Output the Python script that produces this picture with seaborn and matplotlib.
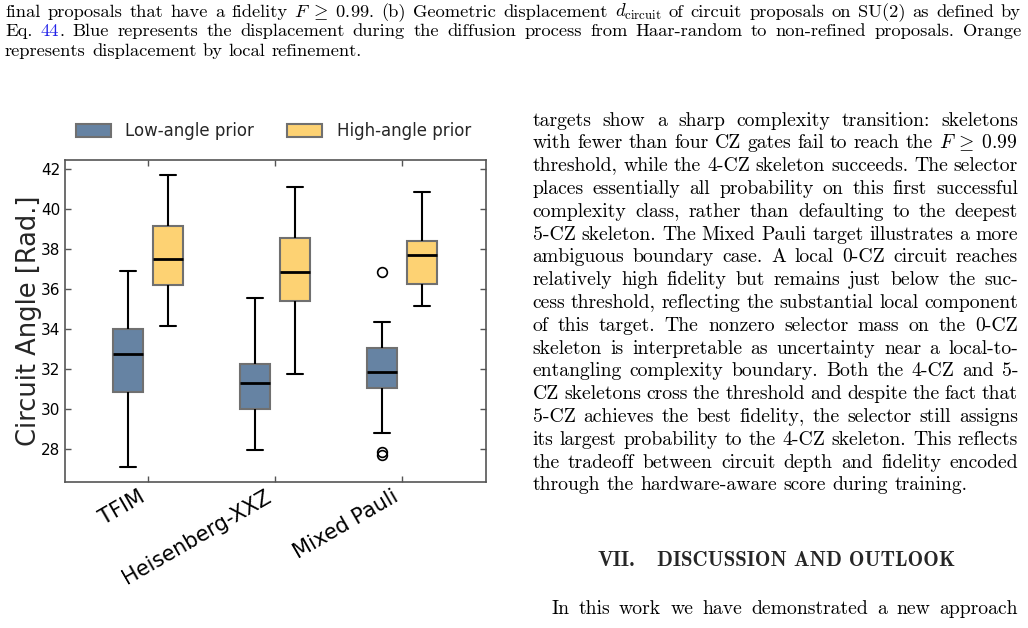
import numpy as np
import pandas as pd
import matplotlib
matplotlib.use('Agg')
import matplotlib.pyplot as plt
import seaborn as sns

# five-number summaries: lower whisker, Q1, median, Q3, upper whisker
targets = ['TFIM', 'Heisenberg-XXZ', 'Mixed Pauli']
priors = ['Low-angle prior', 'High-angle prior']
low_angle = [[27.10, 30.85, 32.77, 34.02, 36.92],
             [27.95, 29.98, 31.28, 32.23, 35.57],
             [28.78, 31.07, 31.85, 33.05, 34.37]]
high_angle = [[34.15, 36.20, 37.48, 39.17, 41.70],
              [31.75, 35.38, 36.87, 38.53, 41.08],
              [35.15, 36.27, 37.70, 38.40, 40.83]]
# points drawn as fliers
outlier_target = ['Mixed Pauli', 'Mixed Pauli', 'Mixed Pauli']
outlier_prior = ['Low-angle prior', 'Low-angle prior', 'Low-angle prior']
outlier_value = [36.83, 27.85, 27.70]
yticks = [28, 30, 32, 34, 36, 38, 40, 42]

# surrounding page text
caption_lines = [
    ['final', 'proposals', 'that', 'have', 'a', 'fidelity', r'$F\;\geq\;0.99$.', '(b)', 'Geometric',
     'displacement', r'$d_{\mathrm{circuit}}$', 'of', 'circuit', 'proposals', 'on', 'SU(2)', 'as',
     'defined', 'by'],
    ['Eq.', (('44', '#2323e8'), ('.', 'black')), 'Blue', 'represents', 'the', 'displacement', 'during',
     'the', 'diffusion', 'process', 'from', 'Haar-random', 'to', 'non-refined', 'proposals.', 'Orange'],
    ['represents', 'displacement', 'by', 'local', 'refinement.'],
]
body_lines = [
    'targets show a sharp complexity transition: skeletons',
    r'with fewer than four CZ gates fail to reach the $F\:\geq\:0.99$',
    'threshold, while the 4-CZ skeleton succeeds. The selector',
    'places essentially all probability on this first successful',
    'complexity class, rather than defaulting to the deepest',
    '5-CZ skeleton. The Mixed Pauli target illustrates a more',
    'ambiguous boundary case. A local 0-CZ circuit reaches',
    'relatively high fidelity but remains just below the suc-',
    'cess threshold, reflecting the substantial local component',
    'of this target. The nonzero selector mass on the 0-CZ',
    'skeleton is interpretable as uncertainty near a local-to-',
    'entangling complexity boundary. Both the 4-CZ and 5-',
    'CZ skeletons cross the threshold and despite the fact that',
    '5-CZ achieves the best fidelity, the selector still assigns',
    'its largest probability to the 4-CZ skeleton. This reflects',
    'the tradeoff between circuit depth and fidelity encoded',
    'through the hardware-aware score during training.',
]
heading_num = 'VII.'
heading_text = 'DISCUSSION AND OUTLOOK'
next_para = 'In this work we have demonstrated a new approach'

rows = []
for prior, stats in zip(priors, [low_angle, high_angle]):
    for target, vals in zip(targets, stats):
        for v in vals:
            rows.append({'target': target, 'prior': prior, 'angle': v})
df = pd.DataFrame(rows)

sns.set_theme(style='ticks')
plt.rcParams['font.family'] = ['DejaVu Sans']
plt.rcParams['mathtext.fontset'] = 'cm'

W, H = 1028, 628
fig = plt.figure(figsize=(W / 100, H / 100), dpi=100)
fig.patch.set_facecolor('white')
ax = fig.add_axes([65 / W, 1 - 482 / H, 421 / W, 322 / H])

palette = {'Low-angle prior': '#6683a3', 'High-angle prior': '#fdd273'}
box_width = 0.63
sns.boxplot(data=df, x='target', y='angle', hue='prior', order=targets, hue_order=priors,
            palette=palette, saturation=1, width=box_width, gap=0.24, whis=(0, 100),
            linecolor='black', linewidth=1.5, ax=ax,
            boxprops=dict(edgecolor='#707070'),
            medianprops=dict(color='black', linewidth=2))

for patch in ax.patches:
    patch.set_edgecolor('#707070')

# fliers
for t, p, v in zip(outlier_target, outlier_prior, outlier_value):
    xpos = targets.index(t) + (priors.index(p) - 0.5) * box_width / 2
    ax.plot(xpos, v, marker='o', ms=7, mfc='none', mec='black', mew=1.2, ls='none')

ax.set_xlim(-0.654, 2.661)
ax.set_ylim(26.35, 42.45)
ax.set_yticks(yticks)
ax.set_xlabel('')
ax.set_ylabel('Circuit Angle [Rad.]', fontsize=18.5)
ax.yaxis.set_label_coords(-0.055, 0.5)
ax.set_xticks(range(len(targets)))
ax.set_xticklabels(targets, rotation=30, ha='right', fontsize=15)
ax.tick_params(axis='y', labelsize=11)
ax.tick_params(direction='in', top=True, right=True, length=4, width=1, color='#555555',
               labelcolor='black')
for s in ax.spines.values():
    s.set_visible(True)
    s.set_color('#555555')
    s.set_linewidth(1.2)

leg = ax.legend(loc='center', bbox_to_anchor=(0.495, 1.09), ncol=2, frameon=False,
                fontsize=12, handlelength=2.1, handleheight=0.8, handletextpad=0.85,
                columnspacing=2.0)
for h in leg.legend_handles:
    h.set_edgecolor('#707070')

# page text
renderer = fig.canvas.get_renderer()


def fx(px):
    return px / W


def fy(py):
    return 1 - py / H


def text_line(words, x0, x1, base, size, family='cmr10', justify=True):
    pieces = []
    for w in words:
        parts = w if isinstance(w, tuple) else ((w, 'black'),)
        arts = [fig.text(0, fy(base), s, fontsize=size, family=family, color=c, va='baseline')
                for s, c in parts]
        widths = [a.get_window_extent(renderer).width for a in arts]
        pieces.append((arts, widths))
    total = sum(sum(ws) for _, ws in pieces)
    if justify and len(pieces) > 1:
        gap = (x1 - x0 - total) / (len(pieces) - 1)
    else:
        gap = size * 100 / 72 * 0.333
    x = x0
    for arts, ws in pieces:
        for a, w in zip(arts, ws):
            a.set_x(fx(x))
            x += w
        x += gap


cap_size = 13.3
for i, words in enumerate(caption_lines):
    text_line(words, 5, 1021, 16.7 + 19.7 * i, cap_size, justify=i < len(caption_lines) - 1)

body_size = 14.2
for i, line in enumerate(body_lines):
    text_line(line.split(' '), 532.5, 1018, 125.5 + 22.8 * i, body_size,
              justify=i < len(body_lines) - 1)

fig.text(fx(597), fy(566), heading_num, fontsize=15, family='cmb10', va='baseline')
fig.text(fx(657), fy(566), heading_text, fontsize=15, family='cmb10', va='baseline')
text_line(next_para.split(' '), 551, 1018, 614, body_size)

fig.savefig('out.png', dpi=100)
